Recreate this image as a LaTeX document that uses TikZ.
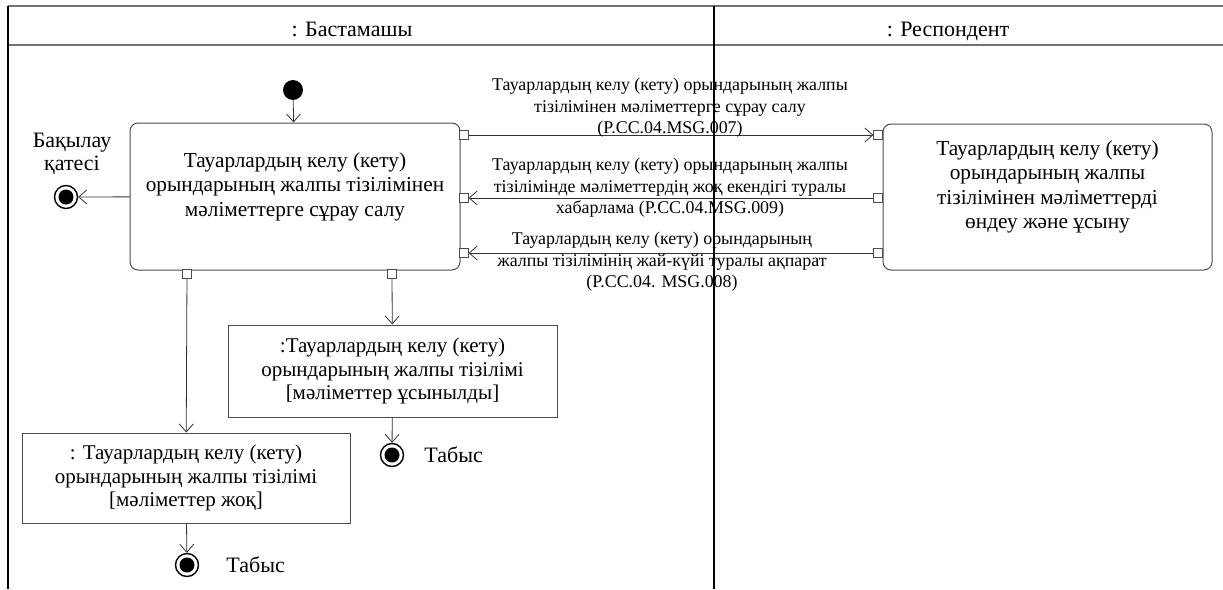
\documentclass[tikz,border=0pt]{standalone}
\usepackage{fontspec}
\setmainfont{Liberation Serif}
\usetikzlibrary{arrows.meta,positioning}

\tikzset{
  act/.style={rectangle, rounded corners=8pt, draw=black!70, line width=1pt, align=center, inner sep=0pt, font=\fontsize{21.3}{24.5}\selectfont},
  objbox/.style={rectangle, draw=black!70, line width=1pt, align=center, inner sep=0pt, font=\fontsize{21}{23.5}\selectfont},
  pin/.style={rectangle, draw=black!70, fill=white, line width=0.8pt, minimum size=8.5pt, inner sep=0pt},
  msg/.style={align=center, inner sep=0pt, font=\fontsize{17.9}{21.5}\selectfont},
  lane/.style={inner sep=0pt, anchor=base, font=\fontsize{22}{24}\selectfont},
  flow/.style={draw=black!80, line width=0.8pt, -{Straight Barb[length=8pt,width=14pt]}},
  startdot/.style={circle, fill=black, minimum size=20pt, inner sep=0pt},
  finish/.style={circle, draw=black, line width=1.4pt, fill=white, minimum size=23pt, inner sep=0pt,
    path picture={\fill[black] (path picture bounding box.center) circle (7.5pt);}},
  lbl/.style={align=center, inner sep=0pt, font=\fontsize{22}{23}\selectfont}
}

\begin{document}
\begin{tikzpicture}[x=1pt, y=-1pt]
        \useasboundingbox (0,0) rectangle (1223,589);

        % Swimlanes
        \draw[black!55, line width=1.3pt] (8,6) -- (1223,6);
        \draw[black!55, line width=1.3pt] (8,45) -- (1223,45);
        \node (initiator) [lane] at (352,36) {: Бастамашы};
        \node (responder) [lane] at (948,36) {: Респондент};

        % Initiator lane
        \node (start) [startdot] at (293,90) {};
        \node (request) [act, minimum width=330pt, minimum height=147pt] at (295,196.5)
          {Тауарлардың келу (кету)\\орындарының жалпы тізілімінен\\мәліметтерге сұрау салу\\\mbox{}};
        \node (err) [finish] at (66,197) {};
        \node (errlbl) [lbl] at (72,154) {Бақылау\\қатесі};

        \node (present) [objbox, minimum width=329pt, minimum height=92pt] at (392.5,371)
          {:Тауарлардың келу (кету)\\орындарының жалпы тізілімі\\{[}мәліметтер ұсынылды{]}};
        \node (okA) [finish] at (392,455) {};
        \node (okAlbl) [lbl, right=20pt of okA] {Табыс};

        \node (absent) [objbox, minimum width=328pt, minimum height=90pt] at (186,478)
          {: Тауарлардың келу (кету)\\орындарының жалпы тізілімі\\{[}мәліметтер жоқ{]}};
        \node (okB) [finish] at (187,565) {};
        \node (okBlbl) [lbl, right=27pt of okB] {Табыс};

        % Responder lane
        \node (process) [act, minimum width=329pt, minimum height=146pt] at (1047.5,197)
          {Тауарлардың келу (кету)\\орындарының жалпы\\тізілімінен мәліметтерді\\өндеу және ұсыну\\\mbox{}};

        % Pins
        \node (out1) [pin] at (464,135) {};
        \node (in2) [pin] at (464,198) {};
        \node (in3) [pin] at (464,253) {};
        \node (in1) [pin] at (878,135) {};
        \node (out2) [pin] at (878,198) {};
        \node (out3) [pin] at (878,253) {};
        \node (outA) [pin] at (187,274) {};
        \node (outB) [pin] at (392,274) {};

        % Flows
        \draw[flow] (start) -- (request);
        \draw[flow] (request) -- (err);
        \draw[flow] (outA) -- (absent);
        \draw[flow] (outB) -- (present);
        \draw[flow] (present) -- (okA);
        \draw[flow] (absent) -- (okB);
        \draw[flow] (out1) -- (in1);
        \draw[flow] (out2) -- (in2);
        \draw[flow] (out3) -- (in3);

        % Messages
        \node (m1) [msg] at (670,108) {Тауарлардың келу (кету) орындарының жалпы\\тізілімінен мәліметтерге сұрау салу\\(P.CC.04.MSG.007)};
        \node (m2) [msg] at (670,188) {Тауарлардың келу (кету) орындарының жалпы\\тізілімінде мәліметтердің жоқ екендігі туралы\\хабарлама (P.CC.04.MSG.009)};
        \node (m3) [msg] at (662,262) {Тауарлардың келу (кету) орындарының\\жалпы тізілімінің жай-күйі туралы ақпарат\\(P.CC.04. MSG.008)};

        % Lane borders
        \draw[black, line width=1.3pt] (8,6) -- (8,589);
        \draw[black, line width=1.3pt] (714,6) -- (714,589);
    \end{tikzpicture}
\end{document}
